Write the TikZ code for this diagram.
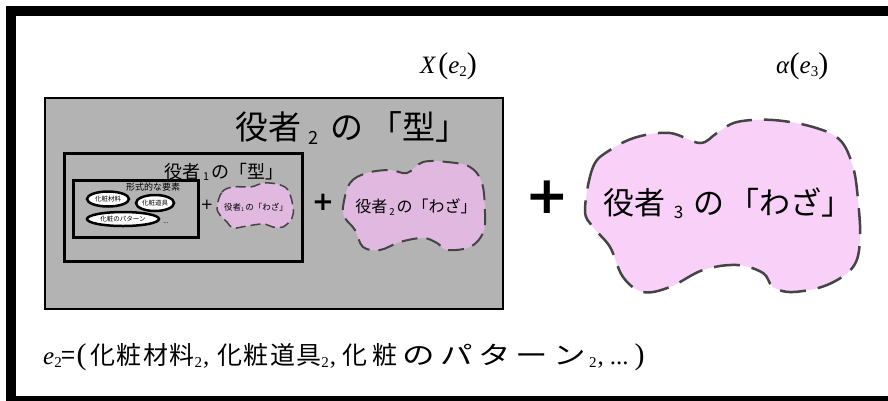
\documentclass[tikz,border=0pt]{standalone}
\usepackage{fontspec}
\usetikzlibrary{shapes.geometric}
\setmainfont{Liberation Serif}
\newfontfamily\jp{Noto Sans CJK JP}
\newfontfamily\plusfont{DejaVu Sans}
\makeatletter
\newdimen\subsz
\newcommand\lsub[2][0.5]{{\subsz=\f@size pt\relax\subsz=#1\subsz\fontsize{\subsz}{\subsz}\selectfont\raisebox{-0.25em}{#2}}}
\makeatother
\newcommand\bigp[1]{{\fontsize{30}{30}\selectfont #1}}
\newcommand\wide[1]{\scalebox{1.3}[1]{#1}}
\definecolor{boxgray}{HTML}{B3B3B3}
\definecolor{pinkA}{HTML}{E0B8E0}
\definecolor{pinkB}{HTML}{F8D0F8}
\definecolor{dashgray}{HTML}{444444}
\begin{document}
\begin{tikzpicture}[x=1pt,y=-1pt,
  frame/.style={draw=black, inner sep=0pt, anchor=north west},
  elli/.style={ellipse, draw=black, line width=2.5pt, fill=white, inner sep=0pt, font=\jp\fontsize{6.5}{7}\selectfont},
  jpt/.style={inner sep=0pt, font=\jp},
  pluss/.style={inner sep=0pt, font=\plusfont},
]
\useasboundingbox (0,0) rectangle (888,400);
% outer frame
\draw[line width=10pt] (11,11) rectangle (894,401);
% gray box
\node[frame, fill=boxgray, line width=2pt, minimum width=458pt, minimum height=211pt] (kata2) at (44,97) {};
\node[frame, line width=2.5pt, minimum width=238pt, minimum height=108pt] (kata1) at (63,152) {};
\node[frame, line width=2.5pt, minimum width=125pt, minimum height=57pt] (keishiki) at (72,179) {};
% titles
\node[jpt, font=\jp\fontsize{33}{33}\selectfont] (t2) at (352,128) {役者\hspace{7pt}\lsub[0.55]{2}\hspace{12pt}の\hspace{6pt}「型」};
\node[jpt, font=\jp\fontsize{18}{18}\selectfont] (t1) at (224,172) {役者\hspace{3pt}\lsub[0.6]{1}\hspace{3pt}の「型」};
\node[jpt, font=\jp\fontsize{9}{9}\selectfont] (yoso) at (153,187) {形式的な要素};
% ellipses
\node[elli, minimum width=42pt, minimum height=15pt] (zairyo) at (108,199) {化粧材料};
\node[elli, minimum width=38pt, minimum height=16pt] (dougu) at (155,203) {化粧道具};
\node[elli, minimum width=72pt, minimum height=14pt] (pattern) at (123,219) {化粧のパターン};
\node[jpt, font=\fontsize{7}{7}\selectfont] (dots) at (166,223) {...};
% small blob
\draw[fill=pinkA, draw=dashgray, line width=1.5pt, dash pattern=on 10pt off 5pt]
  plot[smooth cycle, tension=0.6] coordinates {(217,207) (222,192) (233,187) (250,187) (257,185) (263,183) (277,184) (288,190) (293,207) (292,218) (283,227) (273,227) (263,224) (247,226) (233,228) (227,222) (220,215)};
\node[jpt, font=\jp\fontsize{8.5}{8.5}\selectfont] (waza1) at (256,207) {役者\lsub[0.6]{1}\,の「わざ」};
\node[pluss, font=\plusfont\fontsize{15}{15}\selectfont] (p1) at (207,205) {+};
% medium blob
\draw[fill=pinkA, draw=dashgray, line width=2pt, dash pattern=on 16pt off 9pt]
  plot[smooth cycle, tension=0.6] coordinates {(343,207) (350,183) (367,173) (390,170) (407,173) (423,162) (447,162) (470,167) (482,183) (485,213) (483,233) (470,247) (447,250) (437,243) (423,238) (400,242) (380,250) (363,247) (355,230) (345,218)};
\node[jpt, font=\jp\fontsize{16}{16}\selectfont] (waza2) at (416,207) {役者\hspace{2pt}\lsub[0.6]{2}\hspace{2pt}の「わざ」};
\node[pluss, font=\plusfont\bfseries\fontsize{26}{26}\selectfont] (p2) at (323,202) {+};
% big plus
\node[pluss, font=\plusfont\bfseries\fontsize{52}{52}\selectfont] (p3) at (547,197) {+};
% big blob
\draw[fill=pinkB, draw=dashgray, line width=2.5pt, dash pattern=on 26pt off 12pt]
  plot[smooth cycle, tension=0.6] coordinates {(585,210) (593,167) (610,150) (637,137) (670,133) (700,143) (717,133) (737,122) (773,120) (813,127) (840,140) (853,167) (858,200) (860,240) (853,267) (827,285) (793,292) (773,287) (763,273) (737,265) (703,270) (670,287) (643,292) (623,277) (610,247) (593,227)};
\node[jpt, font=\jp\fontsize{31}{31}\selectfont] (waza3) at (728,203) {役者\hspace{8pt}\lsub[0.55]{3}\hspace{10pt}の\hspace{4pt}「わざ」};
% labels
\node[inner sep=0pt, anchor=base west, font=\fontsize{25}{25}\selectfont] (X) at (420,73) {\textit{X}\hspace{2pt}\bigp{(}\textit{e}\lsub[0.6]{2}\bigp{)}};
\node[inner sep=0pt, anchor=base west, font=\fontsize{25}{25}\selectfont] (alpha) at (776,73) {\textit{α}\bigp{(}\textit{e}\lsub[0.6]{3}\bigp{)}};
\node[inner sep=0pt, anchor=base west, font=\fontsize{25}{25}\selectfont] (formula) at (43,364)
  {\textit{e}\lsub[0.6]{2}{\jp=}\hspace{1pt}\bigp{(}\hspace{4pt}{\jp\makebox[104pt][s]{化\hfil 粧\hfil 材\hfil 料}}\lsub[0.6]{2}\hspace{1pt},\hspace{8pt}{\jp\makebox[104pt][s]{化\hfil 粧\hfil 道\hfil 具}}\lsub[0.6]{2}\hspace{1pt},\hspace{6pt}{\jp\makebox[244pt][s]{化\hfil 粧\hfil \wide{の}\hfil \wide{パ}\hfil \wide{タ}\hfil \wide{ー}\hfil \wide{ン}}}\hspace{3pt}\lsub[0.6]{2}\hspace{1pt},\hspace{6pt}...\hspace{6pt}\bigp{)}};
\end{tikzpicture}
\end{document}
